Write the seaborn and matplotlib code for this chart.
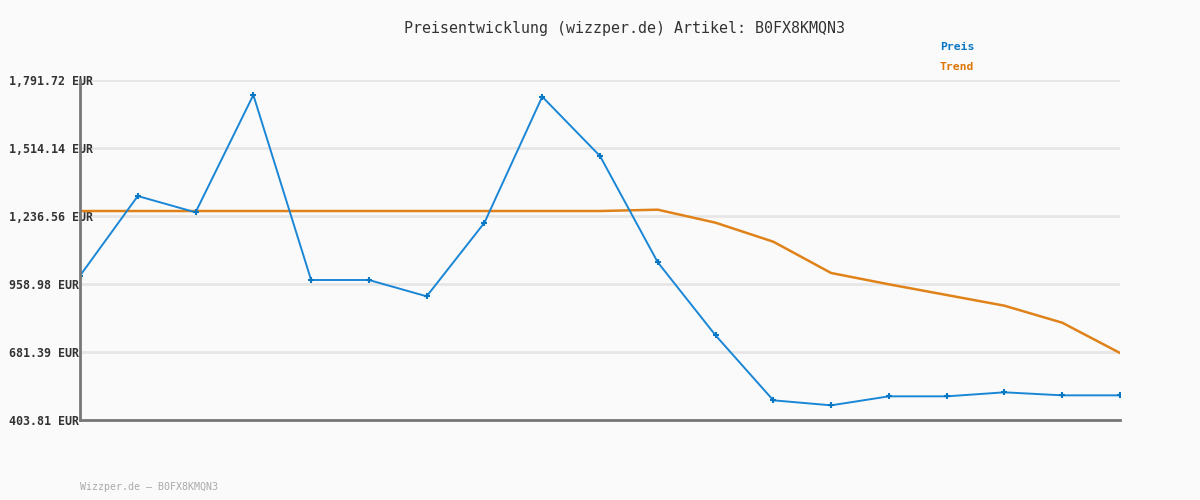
import numpy as np
import pandas as pd
import matplotlib
matplotlib.use("Agg")
import matplotlib.pyplot as plt
import seaborn as sns

# Daten
preis = [992.8, 1318.0, 1251.6, 1730.5, 975.3, 975.3, 908.7, 1209.2, 1723.6, 1481.4,
         1047.5, 749.4, 484.1, 463.7, 500.4, 500.4, 516.8, 504.5, 504.5]
trend = [1256.9, 1256.9, 1256.9, 1256.9, 1256.9, 1256.9, 1256.9, 1256.9, 1256.9, 1256.9,
         1262.3, 1209.2, 1131.6, 1003.9, 957.7, 914.1, 870.4, 801.0, 677.3]
y_ticks = [403.81, 681.39, 958.98, 1236.56, 1514.14, 1791.72]
y_labels = ["403.81 EUR", "681.39 EUR", "958.98 EUR", "1,236.56 EUR", "1,514.14 EUR", "1,791.72 EUR"]
titel = "Preisentwicklung (wizzper.de) Artikel: B0FX8KMQN3"
fusszeile = "Wizzper.de \u2013 B0FX8KMQN3"

BLAU = "#1a86d6"
ORANGE = "#e0821a"

df = pd.DataFrame({"idx": np.arange(len(preis)), "Preis": preis, "Trend": trend})

sns.set_style("white")
plt.rcParams["font.family"] = ["DejaVu Sans Mono"]

fig = plt.figure(figsize=(12, 5), dpi=100, facecolor="#fafafa")
ax = fig.add_axes([80 / 1200, 1 - 420 / 500, 1040 / 1200, 340 / 500])
ax.set_facecolor("#fafafa")

sns.lineplot(data=df, x="idx", y="Trend", ax=ax, color=ORANGE, lw=1.8, zorder=3)
sns.lineplot(data=df, x="idx", y="Preis", ax=ax, color=BLAU, lw=1.4,
             marker="+", markersize=5, markeredgewidth=1.5,
             markeredgecolor="#0a77c4", zorder=4)

ax.set_xlim(0, len(preis) - 1)
ax.set_ylim(y_ticks[0], y_ticks[-1])
ax.set_xticks([])
ax.set_yticks(y_ticks)
ax.set_yticklabels(y_labels, fontsize=8.4, fontweight="bold", color="#333333")
for lab in ax.get_yticklabels():
    lab.set_horizontalalignment("left")
ax.tick_params(axis="y", length=0, pad=51)
ax.set_xlabel("")
ax.set_ylabel("")
ax.grid(axis="y", color="#e6e6e6", lw=2, zorder=0)
ax.set_axisbelow(True)

for s in ["top", "right"]:
    ax.spines[s].set_visible(False)
for s in ["left", "bottom"]:
    ax.spines[s].set_color("#777777")
    ax.spines[s].set_linewidth(2)
    ax.spines[s].set_zorder(5)

fig.text(624 / 1200, 1 - 28 / 500, titel, ha="center", va="center",
         fontsize=10.8, color="#333333")
fig.text(940 / 1200, 1 - 47 / 500, "Preis", ha="left", va="center",
         fontsize=8.2, fontweight="bold", color="#0a77c4")
fig.text(940 / 1200, 1 - 67 / 500, "Trend", ha="left", va="center",
         fontsize=8.2, fontweight="bold", color="#dd7508")
fig.text(80 / 1200, 1 - 487 / 500, fusszeile, ha="left", va="center",
         fontsize=7.2, color="#aaaaaa")

plt.savefig("out.png", dpi=100, facecolor=fig.get_facecolor())
